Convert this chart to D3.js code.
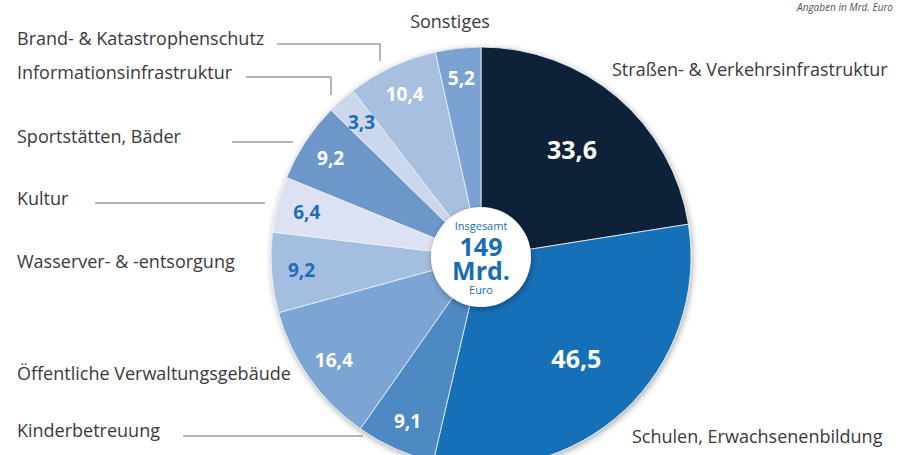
<!DOCTYPE html>
<html>
<head>
<meta charset="utf-8">
<script src="https://cdn.jsdelivr.net/npm/d3@7"></script>
<style>
  body { margin: 0; background: #fff; }
  #chart { width: 906px; height: 455px; }
  text { font-family: "Open Sans", Lato, sans-serif; }
</style>
</head>
<body>
<div id="chart"></div>
<script>
// values in Mrd. Euro, clockwise from 12 o'clock
const categories = [
  "Straßen- & Verkehrsinfrastruktur",
  "Schulen, Erwachsenenbildung",
  "Kinderbetreuung",
  "Öffentliche Verwaltungsgebäude",
  "Wasserver- & -entsorgung",
  "Kultur",
  "Sportstätten, Bäder",
  "Informationsinfrastruktur",
  "Brand- & Katastrophenschutz",
  "Sonstiges"
];
const values = [33.6, 46.5, 9.1, 16.4, 9.2, 6.4, 9.2, 3.3, 10.4, 5.2];
const sliceColors = ["#0e2238", "#1270b7", "#4d89c3", "#7ca5d3", "#a4bee0",
  "#dce2f3", "#6d96c9", "#cad7ed", "#a8c0e0", "#7ba2d2"];
const darkText = [false, false, false, false, true, true, false, true, false, false];
const totalLines = ["Insgesamt", "149", "Mrd.", "Euro"];
const noteText = "Angaben in Mrd. Euro";

const width = document.querySelector("#chart").clientWidth;
const height = document.querySelector("#chart").clientHeight;
const cx = 481, cy = 257;
const radius = 210;

const svg = d3.select("#chart")
  .append("svg")
  .attr("width", width)
  .attr("height", height);

const defs = svg.append("defs");
const shadow = defs.append("filter").attr("id", "shadow")
  .attr("x", "-20%").attr("y", "-20%").attr("width", "140%").attr("height", "140%");
shadow.append("feDropShadow")
  .attr("dx", 1).attr("dy", 2).attr("stdDeviation", 3)
  .attr("flood-color", "#000").attr("flood-opacity", 0.35);

const data = categories.map((c, i) => ({name: c, value: values[i], color: sliceColors[i], dark: darkText[i]}));

const pie = d3.pie().value(d => d.value).sort(null);
const arcs = pie(data);

const arc = d3.arc().innerRadius(0).outerRadius(radius);
const labelArc = d3.arc()
  .innerRadius(d => d.data.value > 30 ? 140 : 180)
  .outerRadius(d => d.data.value > 30 ? 140 : 180);

const g = svg.append("g").attr("transform", `translate(${cx},${cy})`);

g.append("g")
  .attr("filter", "url(#shadow)")
  .selectAll("path")
  .data(arcs)
  .enter()
  .append("path")
    .attr("d", arc)
    .attr("fill", d => d.data.color)
    .attr("stroke", "#eef3fa")
    .attr("stroke-width", 0.8);

g.selectAll("text.val")
  .data(arcs)
  .enter()
  .append("text")
    .attr("class", "val")
    .attr("transform", d => `translate(${labelArc.centroid(d)})`)
    .attr("text-anchor", "middle")
    .attr("dy", "0.35em")
    .attr("font-family", "Lato, sans-serif")
    .attr("font-weight", 700)
    .attr("font-size", d => d.data.value > 30 ? 25 : 19)
    .attr("fill", d => d.data.dark ? "#1f6db6" : "#fff")
    .text(d => d3.format(".1f")(d.data.value).replace(".", ","));

// centre disc
g.append("circle")
  .attr("r", 50)
  .attr("fill", "#fff")
  .attr("filter", "url(#shadow)");

const centreSpec = [
  {t: totalLines[0], y: -27, size: 11, w: 400},
  {t: totalLines[1], y: -1, size: 25, w: 700},
  {t: totalLines[2], y: 23, size: 25, w: 700},
  {t: totalLines[3], y: 37, size: 11, w: 400}
];
g.selectAll("text.centre")
  .data(centreSpec)
  .enter()
  .append("text")
    .attr("class", "centre")
    .attr("text-anchor", "middle")
    .attr("y", d => d.y)
    .attr("font-family", "Lato, sans-serif")
    .attr("font-size", d => d.size)
    .attr("font-weight", d => d.w)
    .attr("fill", "#1a6db5")
    .text(d => d.t);

// category labels with leader lines
const labelPos = {
  "Straßen- & Verkehrsinfrastruktur": {x: 612, y: 76},
  "Schulen, Erwachsenenbildung": {x: 632, y: 443},
  "Kinderbetreuung": {x: 17, y: 437},
  "Öffentliche Verwaltungsgebäude": {x: 17, y: 380},
  "Wasserver- & -entsorgung": {x: 17, y: 268},
  "Kultur": {x: 17, y: 205},
  "Sportstätten, Bäder": {x: 17, y: 143},
  "Informationsinfrastruktur": {x: 17, y: 79},
  "Brand- & Katastrophenschutz": {x: 17, y: 45},
  "Sonstiges": {x: 450, y: 28, anchor: "middle"}
};

svg.selectAll("text.cat")
  .data(data)
  .enter()
  .append("text")
    .attr("class", "cat")
    .attr("x", d => labelPos[d.name].x)
    .attr("y", d => labelPos[d.name].y)
    .attr("text-anchor", d => labelPos[d.name].anchor || "start")
    .attr("font-size", 18)
    .attr("fill", "#3a3a3a")
    .text(d => d.name);

const leaders = [
  [[277, 44], [380, 44], [380, 61]],
  [[246, 77], [331, 77], [331, 95]],
  [[232, 142], [293, 142]],
  [[95, 203], [265, 203]],
  [[183, 436], [363, 436]]
];
svg.selectAll("path.leader")
  .data(leaders)
  .enter()
  .append("path")
    .attr("class", "leader")
    .attr("d", d3.line())
    .attr("fill", "none")
    .attr("stroke", "#6b6b6b")
    .attr("stroke-width", 1);

svg.append("text")
  .attr("x", 893)
  .attr("y", 11)
  .attr("text-anchor", "end")
  .attr("font-size", 10)
  .attr("font-style", "italic")
  .attr("fill", "#555")
  .text(noteText);
</script>
</body>
</html>
